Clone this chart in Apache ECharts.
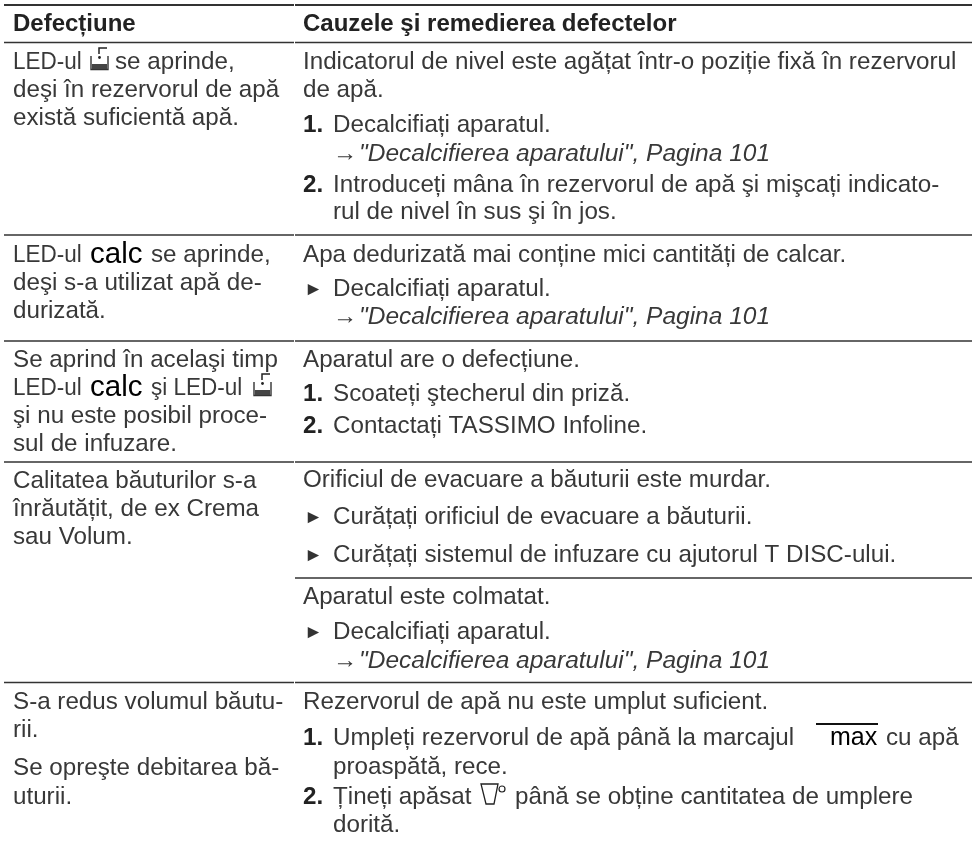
<!DOCTYPE html>
<html><head><meta charset="utf-8">
<style>html,body{margin:0;background:#fff}#c{width:974px;height:846px}</style>
<script src="https://cdn.jsdelivr.net/npm/echarts@6/dist/echarts.min.js"></script>
</head><body><div id="c"></div>
<script>
const headers = ["Defecțiune", "Cauzele şi remedierea defectelor"];
const faultLines = [
 "LED-ul", "se aprinde,", "deşi în rezervorul de apă", "există suficientă apă.",
 "LED-ul", "se aprinde,", "deşi s-a utilizat apă de-", "durizată.",
 "Se aprind în acelaşi timp", "LED-ul", "şi LED-ul", "şi nu este posibil proce-", "sul de infuzare.",
 "Calitatea băuturilor s-a", "înrăutățit, de ex Crema", "sau Volum.",
 "S-a redus volumul băutu-", "rii.", "Se opreşte debitarea bă-", "uturii."
];
const causeLines = [
 "Indicatorul de nivel este agățat într-o poziție fixă în rezervorul", "de apă.",
 "{b|1.}", "Decalcifiați aparatul.", "→", "{i|\"Decalcifierea aparatului\", Pagina 101}",
 "{b|2.}", "Introduceți mâna în rezervorul de apă şi mişcați indicato-", "rul de nivel în sus şi în jos.",
 "Apa dedurizată mai conține mici cantități de calcar.",
 "{t|►}", "Decalcifiați aparatul.", "→", "{i|\"Decalcifierea aparatului\", Pagina 101}",
 "Aparatul are o defecțiune.",
 "{b|1.}", "Scoateți ştecherul din priză.",
 "{b|2.}", "Contactați TASSIMO Infoline.",
 "Orificiul de evacuare a băuturii este murdar.",
 "{t|►}", "Curățați orificiul de evacuare a băuturii.",
 "{t|►}", "Curățați sistemul de infuzare cu ajutorul T DISC-ului.",
 "Aparatul este colmatat.",
 "{t|►}", "Decalcifiați aparatul.", "→", "{i|\"Decalcifierea aparatului\", Pagina 101}",
 "Rezervorul de apă nu este umplut suficient.",
 "{b|1.}", "Umpleți rezervorul de apă până la marcajul", "cu apă",
 "proaspătă, rece.",
 "{b|2.}", "Țineți apăsat", "până se obține cantitatea de umplere", "dorită."
];
const symbolWords = ["calc", "calc", "max"];

// layout: [x, y] of every piece of text, in the order of the lists above
const faultPos = [[13,62.5],[115,62.5],[13,90.5],[13,118.5],
 [13,255.5],[151,255.5],[13,283.5],[13,311.5],
 [13,360],[13,388],[151,388],[13,416.5],[13,444.5],
 [13,481.5],[13,509.5],[13,537.5],
 [13,702.5],[13,730.5],[13,768.5],[13,797.5]];
const causePos = [[303,62.5],[303,90.5],
 [303,125.5],[333,125.5],[333,154.5],[359,154.5],[303,185.5],[333,185.5],[333,212.5],
 [303,255.5],[304,289.5],[333,289.5],[333,317.5],[359,317.5],
 [303,360],[303,394.5],[333,394.5],[303,426.5],[333,426.5],
 [303,480.5],[304,517.5],[333,517.5],[304,555.5],[333,555.5],
 [303,597.5],[304,632.5],[333,632.5],[333,661],[359,661],
 [303,702.5],[303,738.5],[333,738.5],[886,738.5],[333,767.5],[303,797.5],[333,797.5],[515,797.5],[333,825.5]];
const symbolPos = [[90,254.5],[90,387.5],[830,738.5]];
const heavyRules = [[4,294,5],[295,972,5],[4,294,42.5],[295,972,42.5],[4,294,235],[295,972,235],[4,294,341],[295,972,341],[4,294,462],[295,972,462],[4,294,682.5],[295,972,682.5]];
const lightRules = [[295,972,578]];
const ledIconPos = [[90,47],[253,373]];
const cupIconPos = [[480,783]];
const maxBarPos = [[816,724,878]];

const FONT = '"Liberation Sans", Arial, sans-serif', SIZE = 24.2, INK = '#383838';
const rich = {
  b:{fontFamily:'Liberation Sans',fontWeight:'bold',fontSize:SIZE,fill:'#222'},
  i:{fontFamily:'Liberation Sans',fontStyle:'italic',fontSize:24.5,fill:INK},
  t:{fontFamily:'Liberation Sans',fontSize:19,fill:'#333'}
};
const rows = [];
headers.forEach((t,i)=>rows.push({value:[i?303:13,24], t, k:'h'}));
faultLines.forEach((t,i)=>rows.push({value:faultPos[i], t}));
causeLines.forEach((t,i)=>rows.push({value:causePos[i], t}));
symbolWords.forEach((t,i)=>rows.push({value:symbolPos[i], t, k:t==='max'?'m':'c'}));

function textItem(api, d){
  const c = api.coord(d.value);
  const font = d.k==='h' ? 'bold 24px '+FONT : d.k==='c' ? '29.5px '+FONT : d.k==='m' ? '25px '+FONT : SIZE+'px '+FONT;
  const fill = d.k==='h' ? '#222' : (d.k==='c'||d.k==='m') ? '#000' : INK;
  return {type:'text', x:c[0], y:c[1], scaleX:/LED-ul$/.test(d.t)?0.93:1,
    style:{x:0, y:0, text:d.t, rich, font, fill, verticalAlign:'middle'}};
}
function ledIcon(x,y){ return {type:'group', x, y, children:[
  {type:'polyline', shape:{points:[[1,9],[1,22.5],[18,22.5],[18,9]]}, style:{stroke:'#333',lineWidth:1.4,fill:null}},
  {type:'rect', shape:{x:2,y:17,width:15,height:5}, style:{fill:'#444'}},
  {type:'circle', shape:{cx:9.5,cy:10.5,r:1.4}, style:{fill:'#222'}},
  {type:'polyline', shape:{points:[[9,7],[9,1],[17,1]]}, style:{stroke:'#222',lineWidth:1.5,fill:null}}
]};}
function cupIcon(x,y){ return {type:'group', x, y, children:[
  {type:'polygon', shape:{points:[[1,1],[18,1],[14,21],[6,21]]}, style:{stroke:'#222',lineWidth:1.3,fill:null}},
  {type:'circle', shape:{cx:22,cy:6,r:3}, style:{stroke:'#222',lineWidth:1.2,fill:null}}
]};}

const chart = echarts.init(document.getElementById('c'),null,{renderer:'canvas'});
chart.setOption({
  animation:false,
  grid:{left:0,right:0,top:0,bottom:0},
  xAxis:{type:'value',min:0,max:974,show:false},
  yAxis:{type:'value',min:0,max:846,inverse:true,show:false},
  series:[
    {type:'custom',coordinateSystem:'cartesian2d',silent:true,clip:false,
     data:rows.map((d,i)=>({value:[d.value[0],d.value[1],i]})),
     renderItem:(p,api)=>textItem(api,rows[api.value(2)])},
    {type:'custom',coordinateSystem:'cartesian2d',silent:true,
     data:heavyRules.map((r,i)=>({value:[r[0],r[1],r[2],i<2?2.2:1.7]})).concat(lightRules.map(r=>({value:[r[0],r[1],r[2],1.5]}))),
     renderItem:(p,api)=>{
       const a=api.coord([api.value(0),api.value(2)]), b=api.coord([api.value(1),api.value(2)]);
       return {type:'line',shape:{x1:a[0],y1:a[1],x2:b[0],y2:b[1]},style:{stroke:'#333',lineWidth:api.value(3)}};
     }},
    {type:'custom',coordinateSystem:'cartesian2d',silent:true,
     dimensions:['x','y','kind','end'],
     data:ledIconPos.map(p=>[p[0],p[1],0,0]).concat(cupIconPos.map(p=>[p[0],p[1],1,0])).concat(maxBarPos.map(p=>[p[0],p[1],2,p[2]])),
     encode:{x:0,y:1},
     renderItem:(p,api)=>{
       const k=api.value(2), c=api.coord([api.value(0),api.value(1)]);
       if(k===0) return ledIcon(c[0],c[1]);
       if(k===1) return cupIcon(c[0],c[1]);
       const e=api.coord([api.value(3),api.value(1)]);
       return {type:'line',shape:{x1:c[0],y1:c[1],x2:e[0],y2:e[1]},style:{stroke:'#111',lineWidth:1.8}};
     }}
  ]
});
</script></body></html>
